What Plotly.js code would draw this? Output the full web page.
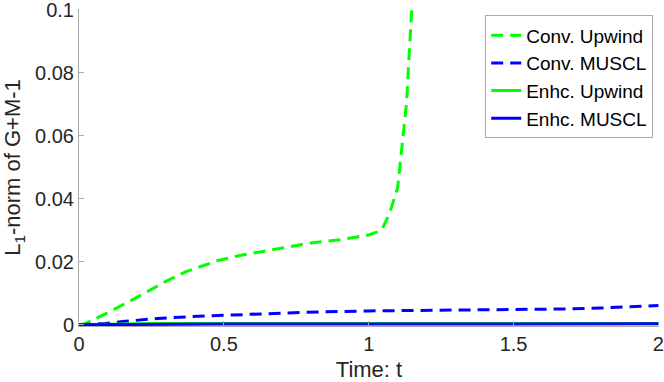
<!DOCTYPE html>
<html>
<head>
<meta charset="utf-8">
<script src="https://cdn.plot.ly/plotly-3.0.1.min.js"></script>
<style>
  body { margin: 0; background: #fff; }
  #graph { width: 664px; height: 382px; }
</style>
</head>
<body>
<div id="graph"></div>
<script>
/*time points and L1 norms*/
var convUpwindT = [0, 0.02, 0.09, 0.19, 0.3, 0.37, 0.42, 0.48, 0.55, 0.63, 0.72, 0.8, 0.9, 1.0, 1.045, 1.072, 1.1, 1.117, 1.131, 1.138, 1.148, 1.16];
var convUpwindY = [0, 0.0003, 0.0034, 0.0082, 0.0138, 0.0169, 0.0185, 0.0204, 0.0219, 0.0232, 0.0248, 0.026, 0.027, 0.0285, 0.030, 0.0354, 0.0436, 0.0574, 0.0708, 0.0834, 0.0997, 0.118];
var convMusclT = [0, 0.05, 0.09, 0.15, 0.27, 0.39, 0.5, 0.63, 0.79, 1.0, 1.1, 1.3, 1.5, 1.68, 1.8, 1.91, 2.0];
var convMusclY = [0, 0.0002, 0.0004, 0.001, 0.002, 0.0026, 0.003, 0.0035, 0.004, 0.0044, 0.0045, 0.0046, 0.0047, 0.005, 0.0053, 0.0057, 0.0061];
var enhcT = [0, 0.25, 0.5, 0.75, 1, 1.25, 1.5, 1.75, 2];
var enhcUpwindY = [0, 0.0004, 0.0004, 0.0004, 0.0004, 0.0004, 0.0004, 0.0004, 0.0004];
var enhcMusclY = [0, 0.0002, 0.0002, 0.0002, 0.0002, 0.0002, 0.0003, 0.0003, 0.0003];
var seriesNames = ['Conv. Upwind', 'Conv. MUSCL', 'Enhc. Upwind', 'Enhc. MUSCL'];
var xTicks = [0, 0.5, 1, 1.5, 2];
var xTickText = ['0', '0.5', '1', '1.5', '2'];
var yTicks = [0, 0.02, 0.04, 0.06, 0.08, 0.1];
var yTickText = ['0', '0.02', '0.04', '0.06', '0.08', '0.1'];

var fontName = 'Liberation Sans, Arial, sans-serif';
var axisGrey = 'rgb(170,170,170)';
var textColor = 'rgb(38,38,38)';

function drawGraph() {
    var convUpwind = {
        x: convUpwindT, y: convUpwindY, name: seriesNames[0],
        type: 'scatter', mode: 'lines',
        line: { color: '#00ff00', width: 3, dash: '12px,7px' }
    };
    var convMuscl = {
        x: convMusclT, y: convMusclY, name: seriesNames[1],
        type: 'scatter', mode: 'lines',
        line: { color: '#0000ff', width: 3, dash: '12px,7px' }
    };
    var enhcUpwind = {
        x: enhcT, y: enhcUpwindY, name: seriesNames[2],
        type: 'scatter', mode: 'lines',
        line: { color: '#00ff00', width: 3 }
    };
    var enhcMuscl = {
        x: enhcT, y: enhcMusclY, name: seriesNames[3],
        type: 'scatter', mode: 'lines',
        line: { color: '#0000ff', width: 3 }
    };
    var data = [convUpwind, convMuscl, enhcUpwind, enhcMuscl];

    var layout = {
        width: 664,
        height: 382,
        margin: { l: 79, r: 5, t: 9, b: 56, pad: 0 },
        paper_bgcolor: '#fff',
        plot_bgcolor: '#fff',
        font: { family: fontName, size: 20, color: textColor },
        showlegend: true,
        legend: {
            x: 0.99, y: 0.98, xanchor: 'right', yanchor: 'top',
            bgcolor: '#fff', bordercolor: axisGrey, borderwidth: 1,
            font: { family: fontName, size: 19, color: '#000' },
            itemwidth: 30
        },
        xaxis: {
            range: [0, 2.002],
            tickvals: xTicks, ticktext: xTickText,
            ticks: 'inside', ticklen: 5, tickcolor: axisGrey,
            ticklabeloverflow: 'allow',
            showline: true, linecolor: axisGrey, linewidth: 1,
            showgrid: false, zeroline: false,
            tickfont: { family: fontName, size: 20, color: textColor },
            title: { text: 'Time: t', font: { family: fontName, size: 22, color: textColor }, standoff: 8 }
        },
        yaxis: {
            range: [-0.0004, 0.1003],
            tickvals: yTicks, ticktext: yTickText,
            ticks: 'inside', ticklen: 5, tickcolor: axisGrey,
            ticklabeloverflow: 'allow',
            showline: true, linecolor: axisGrey, linewidth: 1,
            showgrid: false, zeroline: false,
            tickfont: { family: fontName, size: 20, color: textColor },
            title: { text: 'L<sub>1</sub>-norm of G+M-1', font: { family: fontName, size: 22, color: textColor }, standoff: 8 }
        }
    };

    Plotly.newPlot('graph', data, layout, { staticPlot: true, displayModeBar: false });
}
drawGraph();
</script>
</body>
</html>
